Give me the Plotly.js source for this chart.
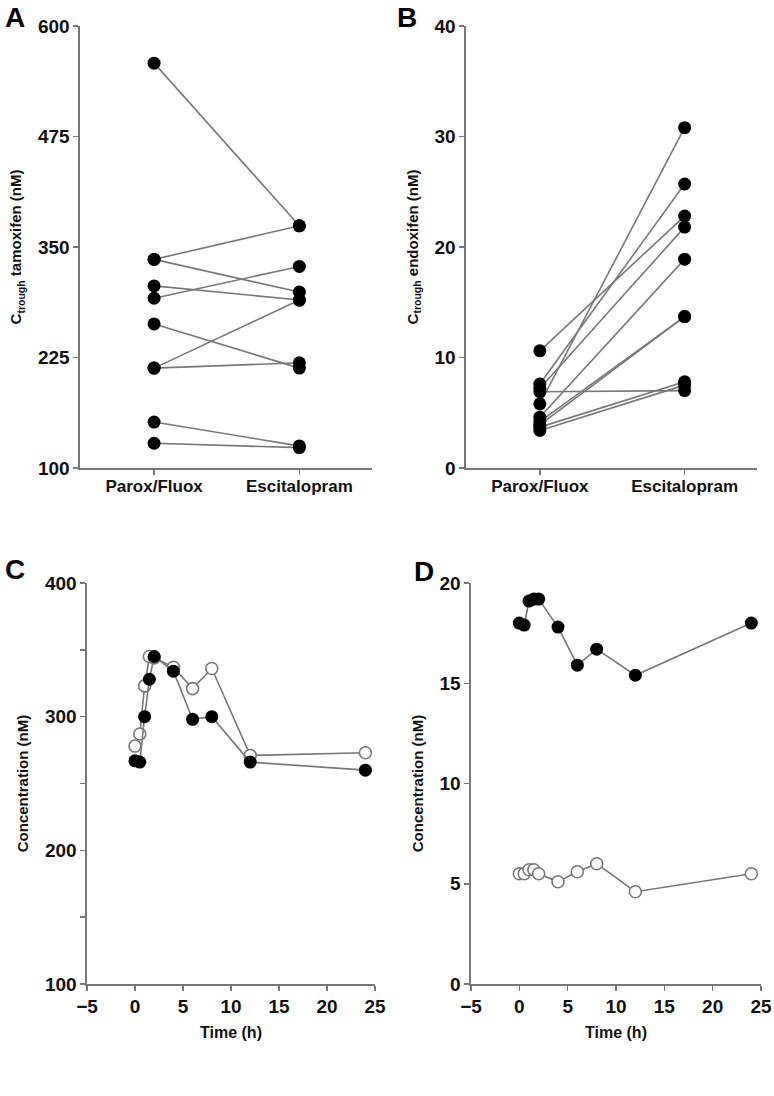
<!DOCTYPE html>
<html>
<head>
<meta charset="utf-8">
<script src="https://cdn.plot.ly/plotly-3.0.1.min.js"></script>
<style>html,body{margin:0;padding:0;background:#fff;}</style>
</head>
<body>
<div id="chart" style="width:774px;height:1096px;"></div>
<script>
// groups for panels A and B
const groups = ['Parox/Fluox', 'Escitalopram'];

// A: trough tamoxifen per patient (nM), before / after switch
const tamParox = [558, 336, 336, 306, 292, 263, 213, 213, 152, 128];
const tamEscit = [374, 374, 299, 290, 328, 213, 290, 219, 125, 123];

// B: trough endoxifen per patient (nM)
const endParox = [10.6, 7.6, 7.2, 6.9, 5.8, 4.6, 4.2, 3.9, 3.7, 3.4];
const endEscit = [22.8, 25.7, 21.8, 7.0, 30.8, 18.9, 13.7, 13.7, 7.8, 7.5];

// C, D: concentration time courses
const timeH     = [0, 0.5, 1, 1.5, 2, 4, 6, 8, 12, 24];
const tamFilled = [267, 266, 300, 328, 345, 334, 298, 300, 266, 260];
const tamOpen   = [278, 287, 323, 345, 344, 337, 321, 336, 271, 273];
const endFilled = [18.0, 17.9, 19.1, 19.2, 19.2, 17.8, 15.9, 16.7, 15.4, 18.0];
const endOpen   = [5.5, 5.5, 5.7, 5.7, 5.5, 5.1, 5.6, 6.0, 4.6, 5.5];

const FONT = 'Liberation Sans, Arial, Helvetica, sans-serif';
const GREY = '#777';
const W = 774, H = 1096;

// helpers to turn pixel boxes into paper domains
const dx = (a, b) => [a / W, b / W];
const dy = (top, bottom) => [1 - bottom / H, 1 - top / H];

// paired lines (null separated) + a marker trace on top
function pairedTraces(before, after, xa, ya) {
  const lx = [], ly = [], mx = [], my = [];
  for (let i = 0; i < before.length; i++) {
    lx.push(groups[0], groups[1], null);
    ly.push(before[i], after[i], null);
    mx.push(groups[0], groups[1]);
    my.push(before[i], after[i]);
  }
  return [
    { x: lx, y: ly, xaxis: xa, yaxis: ya, type: 'scatter', mode: 'lines',
      line: { color: GREY, width: 1.6 }, hoverinfo: 'skip' },
    { x: mx, y: my, xaxis: xa, yaxis: ya, type: 'scatter', mode: 'markers',
      marker: { color: '#000', size: 13 }, cliponaxis: false }
  ];
}

function timeTraces(filled, open, xa, ya) {
  return [
    { x: timeH, y: open, xaxis: xa, yaxis: ya, type: 'scatter', mode: 'lines+markers',
      line: { color: GREY, width: 1.6 },
      marker: { color: '#fff', size: 12, line: { color: GREY, width: 1.6 } }, cliponaxis: false },
    { x: timeH, y: filled, xaxis: xa, yaxis: ya, type: 'scatter', mode: 'lines+markers',
      line: { color: GREY, width: 1.6 },
      marker: { color: '#000', size: 13 }, cliponaxis: false }
  ];
}

const data = [
  ...pairedTraces(tamParox, tamEscit, 'x', 'y'),
  ...pairedTraces(endParox, endEscit, 'x2', 'y2'),
  ...timeTraces(tamFilled, tamOpen, 'x3', 'y3'),
  ...timeTraces(endFilled, endOpen, 'x4', 'y4')
];

const axisBase = {
  showline: true, linecolor: GREY, linewidth: 1.6,
  ticks: 'outside', tickcolor: GREY, ticklen: 5, tickwidth: 1.5,
  showgrid: false, zeroline: false, fixedrange: true,
  tickfont: { family: FONT, size: 19, color: '#111', weight: 'bold' }
};
const catAxis = (dom, anchor) => Object.assign({}, axisBase, {
  type: 'category', range: [-0.51, 1.5], domain: dom, anchor: anchor,
  ticklabelstandoff: -3,
  tickfont: { family: FONT, size: 17, color: '#111', weight: 'bold' }
});
const timeAxis = (dom, anchor) => Object.assign({}, axisBase, {
  range: [-5, 25], dtick: 5, domain: dom, anchor: anchor,
  title: { text: 'Time (h)', standoff: 10, font: { family: FONT, size: 16, color: '#111', weight: 'bold' } }
});
const yTitle = (txt) => ({ text: txt, standoff: 12, font: { family: FONT, size: 15, color: '#111', weight: 'bold' } });

const letter = (t, px, py) => ({
  text: t, xref: 'paper', yref: 'paper', x: px / W, y: 1 - py / H,
  xanchor: 'center', yanchor: 'middle', showarrow: false,
  font: { family: FONT, size: 28, color: '#000', weight: 'bold' }
});

const layout = {
  width: W, height: H,
  margin: { l: 0, r: 0, t: 0, b: 0 },
  paper_bgcolor: '#fff', plot_bgcolor: '#fff',
  showlegend: false,
  xaxis: catAxis(dx(80, 372), 'y'),
  yaxis: Object.assign({}, axisBase, {
    range: [100, 600], tickvals: [100, 225, 350, 475, 600],
    domain: dy(26, 468), anchor: 'x',
    title: yTitle('C<sub>trough</sub> tamoxifen (nM)')
  }),
  xaxis2: catAxis(dx(466, 757), 'y2'),
  yaxis2: Object.assign({}, axisBase, {
    range: [0, 40], dtick: 10,
    domain: dy(26, 468), anchor: 'x2',
    title: yTitle('C<sub>trough</sub> endoxifen (nM)')
  }),
  xaxis3: timeAxis(dx(87, 375), 'y3'),
  yaxis3: Object.assign({}, axisBase, {
    range: [100, 400], dtick: 100,
    minor: { ticks: 'outside', dtick: 50, ticklen: 5, tickcolor: GREY, tickwidth: 1.5 },
    domain: dy(583, 984), anchor: 'x3',
    title: yTitle('Concentration (nM)')
  }),
  xaxis4: timeAxis(dx(471, 761), 'y4'),
  yaxis4: Object.assign({}, axisBase, {
    range: [0, 20], dtick: 5,
    domain: dy(583, 984), anchor: 'x4',
    title: yTitle('Concentration (nM)')
  }),
  annotations: [
    letter('A', 15, 17),
    letter('B', 407, 17),
    letter('C', 15, 569),
    letter('D', 424, 571)
  ]
};

Plotly.newPlot('chart', data, layout, { displayModeBar: false, staticPlot: true });
</script>
</body>
</html>
